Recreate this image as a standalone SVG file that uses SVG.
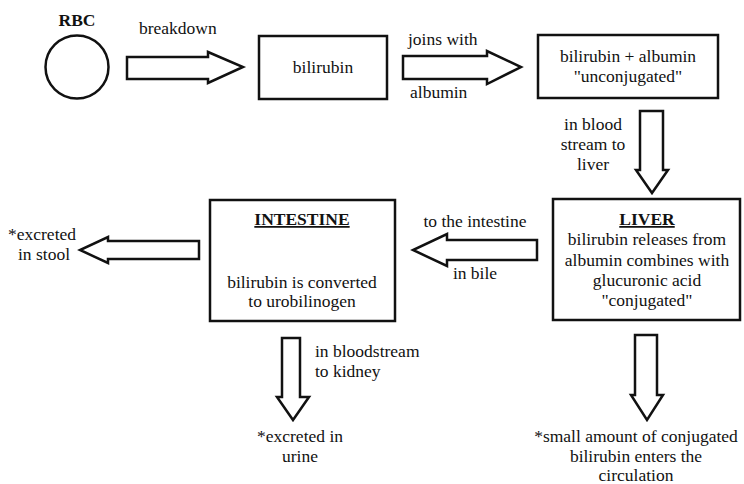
<svg xmlns="http://www.w3.org/2000/svg" width="744" height="484" viewBox="0 0 744 484">
  <style>
    text { font-family: "Liberation Serif", "Times New Roman", serif; font-size: 17.5px; fill: #111; }
    .c { text-anchor: middle; }
    .b { font-weight: bold; }
    .u { text-decoration: underline; }
    .box { fill: #fff; stroke: #111; stroke-width: 2.5; }
    .arrow { fill: #fff; stroke: #111; stroke-width: 2.5; stroke-linejoin: miter; }
  </style>
  <rect width="744" height="484" fill="#fff"/>

  <!-- nodes -->
  <g id="rbc">
    <text class="c b" x="77" y="26">RBC</text>
    <circle class="box" cx="77" cy="67" r="31.5"/>
  </g>
  <g id="bilirubin">
    <rect class="box" x="259" y="36" width="128" height="63"/>
    <text class="c" x="323" y="73">bilirubin</text>
  </g>
  <g id="unconjugated">
    <rect class="box" x="538" y="35" width="180" height="63"/>
    <text class="c" x="628" y="62">bilirubin + albumin</text>
    <text class="c" x="628" y="82">"unconjugated"</text>
  </g>
  <g id="liver">
    <rect class="box" x="553" y="199" width="187" height="121"/>
    <text class="c b u" x="647" y="225">LIVER</text>
    <text class="c" x="647" y="245">bilirubin releases from</text>
    <text class="c" x="647" y="266">albumin combines with</text>
    <text class="c" x="647" y="286">glucuronic acid</text>
    <text class="c" x="647" y="306">"conjugated"</text>
  </g>
  <g id="intestine">
    <rect class="box" x="210" y="200" width="185" height="121"/>
    <text class="c b u" x="302" y="225">INTESTINE</text>
    <text class="c" x="302" y="288">bilirubin is converted</text>
    <text class="c" x="302" y="307">to urobilinogen</text>
  </g>
  <g id="stool">
    <text x="8" y="240">*excreted</text>
    <text x="18" y="260">in stool</text>
  </g>
  <g id="urine">
    <text class="c" x="300" y="442">*excreted in</text>
    <text class="c" x="300" y="462">urine</text>
  </g>
  <g id="circulation">
    <text class="c" x="636" y="442">*small amount of conjugated</text>
    <text class="c" x="636" y="462">bilirubin enters the</text>
    <text class="c" x="636" y="481">circulation</text>
  </g>

  <!-- connectors: hollow block arrows with their labels -->
  <g id="connectors">
    <polygon class="arrow" points="127,57 208,57 208,52 243,67 208,83 208,79 127,79"/>
    <text x="139" y="34">breakdown</text>

    <polygon class="arrow" points="403,56 487,56 487,51 521,67 487,84 487,79 403,79"/>
    <text x="408" y="45">joins with</text>
    <text x="410" y="98">albumin</text>

    <polygon class="arrow" points="640,111 663,111 663,170 668,170 652,193 636,170 640,170"/>
    <text class="c" x="593" y="130">in blood</text>
    <text class="c" x="593" y="150">stream to</text>
    <text class="c" x="593" y="170">liver</text>

    <polygon class="arrow" points="537,240 447,240 447,234 413,250 447,266 447,260 537,260"/>
    <text class="c" x="475" y="227">to the intestine</text>
    <text class="c" x="475" y="279">in bile</text>

    <polygon class="arrow" points="199,241 108,241 108,237 80,250 108,263 108,259 199,259"/>

    <polygon class="arrow" points="282,338 300,338 300,397 309,397 293,420 277,397 282,397"/>
    <text x="315" y="357">in bloodstream</text>
    <text x="315" y="377">to kidney</text>

    <polygon class="arrow" points="635,335 657,335 657,395 663,395 647,420 631,395 635,395"/>
  </g>
</svg>
